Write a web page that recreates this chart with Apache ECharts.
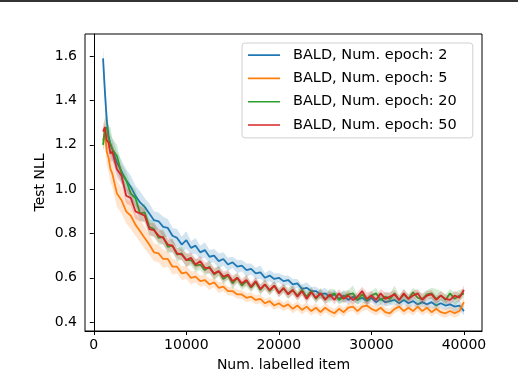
<!DOCTYPE html>
<html><head><meta charset="utf-8">
<script src="https://cdn.jsdelivr.net/npm/echarts@6/dist/echarts.min.js"></script>
<style>html,body{margin:0;padding:0;background:#fff}#c{width:518px;height:370px}</style>
</head><body><div id="c"></div>
<script>
const xs = [1000,1200,1400,1600,1800,2000,2500,3000,3500,4000,4500,5000,5500,6000,6500,7000,7500,8000,8500,9000,9500,10000,10500,11000,11500,12000,12500,13000,13500,14000,14500,15000,15500,16000,16500,17000,17500,18000,18500,19000,19500,20000,20500,21000,21500,22000,22500,23000,23500,24000,24500,25000,25500,26000,26500,27000,27500,28000,28500,29000,29500,30000,30500,31000,31500,32000,32500,33000,33500,34000,34500,35000,35500,36000,36500,37000,37500,38000,38500,39000,39500,40000];

const epoch2 = [1.59,1.44,1.31,1.24,1.20,1.18,1.12,1.08,1.04,1.01,
0.97,0.94,0.92,0.89,0.86,0.855,0.83,0.825,0.79,0.78,
0.75,0.77,0.735,0.745,0.715,0.725,0.695,0.70,0.675,0.685,
0.66,0.67,0.65,0.655,0.635,0.64,0.62,0.625,0.60,0.61,
0.595,0.60,0.585,0.59,0.57,0.575,0.55,0.555,0.54,0.54,
0.525,0.53,0.515,0.525,0.505,0.52,0.50,0.515,0.50,0.51,
0.495,0.51,0.49,0.505,0.49,0.495,0.50,0.485,0.50,0.485,
0.495,0.48,0.49,0.48,0.49,0.475,0.485,0.475,0.48,0.47,
0.475,0.45];
const epoch5 = [1.22,1.25,1.17,1.14,1.09,1.07,0.98,0.95,0.90,0.88,
0.84,0.81,0.78,0.75,0.715,0.71,0.685,0.685,0.65,0.65,
0.62,0.625,0.60,0.605,0.585,0.59,0.57,0.58,0.555,0.56,
0.54,0.54,0.525,0.525,0.51,0.515,0.50,0.505,0.485,0.495,
0.475,0.485,0.47,0.48,0.46,0.475,0.455,0.47,0.45,0.465,
0.445,0.465,0.45,0.44,0.46,0.445,0.465,0.47,0.45,0.47,
0.475,0.46,0.45,0.465,0.445,0.44,0.46,0.47,0.45,0.465,
0.45,0.47,0.45,0.465,0.445,0.46,0.445,0.44,0.45,0.44,
0.45,0.49];
const epoch20 = [1.20,1.27,1.28,1.23,1.23,1.18,1.15,1.07,1.04,0.98,
0.96,0.89,0.895,0.83,0.82,0.78,0.785,0.74,0.745,0.705,
0.71,0.68,0.68,0.655,0.66,0.635,0.65,0.615,0.63,0.595,
0.61,0.575,0.60,0.565,0.585,0.555,0.58,0.545,0.57,0.54,
0.565,0.535,0.55,0.53,0.545,0.52,0.545,0.515,0.54,0.505,
0.53,0.505,0.52,0.53,0.50,0.515,0.525,0.53,0.50,0.525,
0.50,0.52,0.53,0.50,0.515,0.505,0.53,0.50,0.525,0.505,
0.535,0.51,0.505,0.525,0.53,0.505,0.52,0.50,0.53,0.505,
0.52,0.53];
const epoch50 = [1.26,1.28,1.22,1.21,1.16,1.17,1.09,1.06,0.97,0.96,
0.90,0.89,0.88,0.82,0.815,0.79,0.78,0.75,0.745,0.71,
0.705,0.68,0.69,0.66,0.675,0.645,0.645,0.62,0.63,0.605,
0.615,0.585,0.60,0.575,0.59,0.56,0.585,0.55,0.57,0.545,
0.565,0.53,0.555,0.525,0.545,0.515,0.54,0.505,0.535,0.51,
0.53,0.50,0.525,0.50,0.53,0.505,0.52,0.50,0.515,0.54,
0.505,0.52,0.50,0.53,0.505,0.515,0.525,0.50,0.53,0.505,
0.52,0.53,0.50,0.52,0.525,0.50,0.52,0.505,0.50,0.52,
0.51,0.545];

const sd2 = [0.05,0.06,0.06,0.05,0.05,0.05,0.05,0.05,0.05,0.05,0.045,0.05,0.04,0.045,0.04,0.04,0.045,0.04,0.035,0.04,0.035,0.04,0.03,0.035,0.03,0.035,0.03,0.03,0.035,0.03,0.03,0.025,0.03,0.025,0.03,0.025,0.025,0.03,0.02,0.025,0.025,0.02,0.025,0.02,0.025,0.02,0.02,0.025,0.02,0.02,0.02,0.025,0.02,0.02,0.02,0.025,0.02,0.02,0.02,0.02,0.02,0.02,0.02,0.025,0.02,0.02,0.02,0.02,0.02,0.025,0.02,0.02,0.02,0.02,0.025,0.02,0.02,0.02,0.02,0.025,0.02,0.02];
const sd5 = [0.04,0.05,0.06,0.06,0.06,0.06,0.06,0.06,0.055,0.06,0.05,0.05,0.05,0.045,0.04,0.04,0.04,0.035,0.035,0.03,0.03,0.03,0.03,0.025,0.025,0.025,0.025,0.02,0.025,0.02,0.02,0.02,0.02,0.02,0.02,0.02,0.02,0.02,0.02,0.02,0.02,0.02,0.02,0.02,0.02,0.02,0.02,0.02,0.02,0.02,0.02,0.02,0.02,0.02,0.02,0.02,0.02,0.02,0.02,0.02,0.02,0.02,0.02,0.02,0.02,0.02,0.02,0.02,0.02,0.02,0.02,0.02,0.02,0.02,0.02,0.02,0.02,0.02,0.02,0.02,0.02,0.02];
const sd20 = [0.03,0.05,0.06,0.05,0.05,0.05,0.05,0.045,0.04,0.04,0.04,0.035,0.04,0.035,0.035,0.03,0.035,0.03,0.03,0.03,0.03,0.03,0.025,0.03,0.025,0.025,0.03,0.025,0.025,0.025,0.02,0.025,0.025,0.02,0.025,0.02,0.02,0.025,0.02,0.02,0.02,0.02,0.02,0.025,0.02,0.02,0.025,0.02,0.02,0.02,0.025,0.02,0.03,0.02,0.02,0.025,0.02,0.035,0.02,0.025,0.02,0.02,0.025,0.02,0.02,0.025,0.035,0.02,0.025,0.02,0.02,0.03,0.025,0.02,0.025,0.045,0.02,0.025,0.02,0.03,0.025,0.02];
const sd50 = [0.03,0.04,0.04,0.04,0.04,0.04,0.04,0.04,0.035,0.035,0.035,0.035,0.03,0.03,0.03,0.03,0.03,0.03,0.03,0.025,0.025,0.03,0.025,0.025,0.025,0.025,0.025,0.025,0.02,0.025,0.02,0.025,0.02,0.02,0.025,0.02,0.02,0.02,0.025,0.02,0.02,0.02,0.02,0.02,0.02,0.02,0.02,0.02,0.02,0.02,0.02,0.02,0.02,0.02,0.02,0.02,0.025,0.02,0.02,0.02,0.03,0.02,0.02,0.02,0.03,0.02,0.02,0.02,0.02,0.02,0.02,0.02,0.025,0.02,0.02,0.02,0.02,0.02,0.02,0.02,0.02,0.02];

const names = ['BALD, Num. epoch: 2','BALD, Num. epoch: 5','BALD, Num. epoch: 20','BALD, Num. epoch: 50'];
const xTicks = [0,10000,20000,30000,40000];
const yTicks = [0.4,0.6,0.8,1.0,1.2,1.4,1.6];

const means = [epoch2, epoch5, epoch20, epoch50];
const sds = [sd2, sd5, sd20, sd50];
const colors = ['#1f77b4','#ff7f0e','#2ca02c','#d62728'];
const FONT = 'DejaVu Sans';
const LINE_ICON = 'path://M0,6.3h32v1.6h-32z M0,0h0.01v0.01h-0.01z M31.99,13.99h0.01v0.01h-0.01z';

const series = [];
means.forEach((m, k) => {
  const sd = sds[k];
  series.push({
    type: 'custom',
    silent: true,
    z: 2 + k*2,
    data: xs.map((x,i)=>[x, m[i]]),
    renderItem: function(params, api) {
      if (params.dataIndex !== 0) return null;
      const pts = [];
      for (let i = 0; i < xs.length; i++) pts.push(api.coord([xs[i], m[i] + sd[i]]));
      for (let i = xs.length - 1; i >= 0; i--) pts.push(api.coord([xs[i], m[i] - sd[i]]));
      return { type: 'polygon', shape: { points: pts }, style: { fill: colors[k], opacity: 0.2 } };
    }
  });
  series.push({
    name: names[k],
    type: 'line',
    z: 3 + k*2,
    symbol: 'none',
    data: xs.map((x,i)=>[x, m[i]]),
    lineStyle: { color: colors[k], width: 1.8 },
    itemStyle: { color: colors[k] },
    animation: false
  });
});

const chart = echarts.init(document.getElementById('c'));
chart.setOption({
  animation: false,
  backgroundColor: '#fff',
  graphic: [{ type: 'rect', left: 0, top: 0, shape: { width: 518, height: 2 }, style: { fill: '#333' } }],
  grid: { left: 85, top: 34, right: 36, bottom: 39, show: true, borderColor: '#000', borderWidth: 1,
    outerBoundsMode: 'none', containLabel: false },
  legend: {
    data: names.map(n => ({ name: n, icon: LINE_ICON })),
    orient: 'vertical', left: 242, top: 43,
    itemWidth: 32, itemHeight: 14, itemGap: 8.3,
    padding: [4.5, 16, 5.5, 6],
    borderColor: '#d0d0d0', borderWidth: 1, borderRadius: 3,
    textStyle: { fontFamily: FONT, fontSize: 14.5, lineHeight: 15, color: '#000', padding: [0,0,0,8] }
  },
  xAxis: {
    type: 'value', min: -950, max: 41950,
    name: 'Num. labelled item', nameLocation: 'middle', nameGap: 27, nameMoveOverlap: false,
    nameTextStyle: { fontFamily: FONT, fontSize: 14, color: '#000' },
    splitLine: { show: false },
    axisLine: { lineStyle: { color: '#000' } },
    axisTick: { show: true, length: 4, customValues: xTicks, lineStyle: { color: '#000' } },
    axisLabel: { customValues: xTicks, margin: 7, fontFamily: FONT, fontSize: 14, color: '#000',
      formatter: v => String(Math.round(v)) }
  },
  yAxis: {
    type: 'value', min: 0.36, max: 1.70,
    name: 'Test NLL', nameLocation: 'middle', nameGap: 38, nameMoveOverlap: false,
    nameTextStyle: { fontFamily: FONT, fontSize: 14, color: '#000' },
    splitLine: { show: false },
    axisLine: { show: true, lineStyle: { color: '#000' } },
    axisTick: { show: true, length: 4, customValues: yTicks, lineStyle: { color: '#000' } },
    axisLabel: { customValues: yTicks, margin: 8, fontFamily: FONT, fontSize: 14, color: '#000',
      formatter: v => v.toFixed(1) }
  },
  series: series
});
</script></body></html>
